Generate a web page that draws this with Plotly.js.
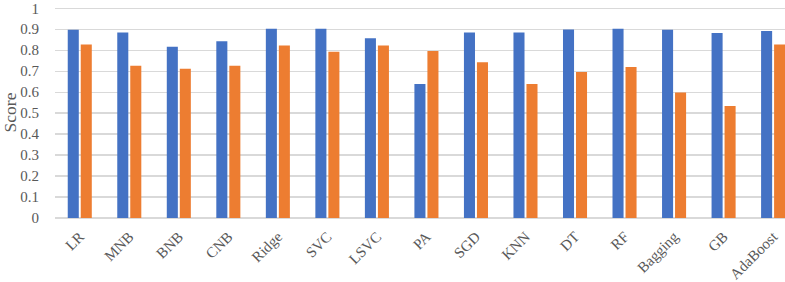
<!DOCTYPE html>
<html>
<head>
<meta charset="utf-8">
<script src="https://cdn.plot.ly/plotly-3.0.1.min.js"></script>
<style>html,body{margin:0;padding:0;background:#fff;}#chart{width:785px;height:282px;}</style>
</head>
<body>
<div id="chart"></div>
<script>
const categories = ["LR","MNB","BNB","CNB","Ridge","SVC","LSVC","PA","SGD","KNN","DT","RF","Bagging","GB","AdaBoost"];
const seriesA = [0.897,0.885,0.816,0.843,0.902,0.902,0.857,0.639,0.885,0.885,0.899,0.902,0.897,0.882,0.891];
const seriesB = [0.827,0.726,0.712,0.726,0.822,0.793,0.822,0.796,0.742,0.639,0.696,0.720,0.598,0.534,0.827];
const yTicks = [0,0.1,0.2,0.3,0.4,0.5,0.6,0.7,0.8,0.9,1];
const yTickText = ["0","0.1","0.2","0.3","0.4","0.5","0.6","0.7","0.8","0.9","1"];

const font = {family: "Liberation Serif", size: 15, color: "#595959"};
const data = [
  {type: "bar", x: categories, y: seriesA, marker: {color: "#4472C4"}, name: "A", hoverinfo: "skip"},
  {type: "bar", x: categories, y: seriesB, marker: {color: "#ED7D31"}, name: "B", hoverinfo: "skip"}
];
const layout = {
  width: 785, height: 282,
  margin: {l: 55, r: 0, t: 7, b: 64},
  paper_bgcolor: "#fff", plot_bgcolor: "#fff",
  showlegend: false,
  barmode: "group", bargap: 0.475, bargroupgap: 0.15,
  font: font,
  xaxis: {
    type: "category", range: [-0.5, 14.24], tickangle: -45,
    showgrid: false, showline: false, ticks: "", tickfont: font, automargin: false,
    ticklabelstandoff: 6
  },
  yaxis: {
    range: [0, 1.006], tickvals: yTicks, ticktext: yTickText,
    showgrid: true, gridcolor: "#d9d9d9", gridwidth: 1.3,
    zeroline: true, zerolinecolor: "#d9d9d9", zerolinewidth: 1.3,
    showline: false, ticks: "", tickfont: font, ticklabelstandoff: 15,
    ticklabeloverflow: "allow",
    title: {text: "Score", font: {family: "Liberation Serif", size: 17.5, color: "#595959"}, standoff: 4},
    automargin: false
  }
};
Plotly.newPlot("chart", data, layout, {displayModeBar: false, staticPlot: true});
</script>
</body>
</html>
